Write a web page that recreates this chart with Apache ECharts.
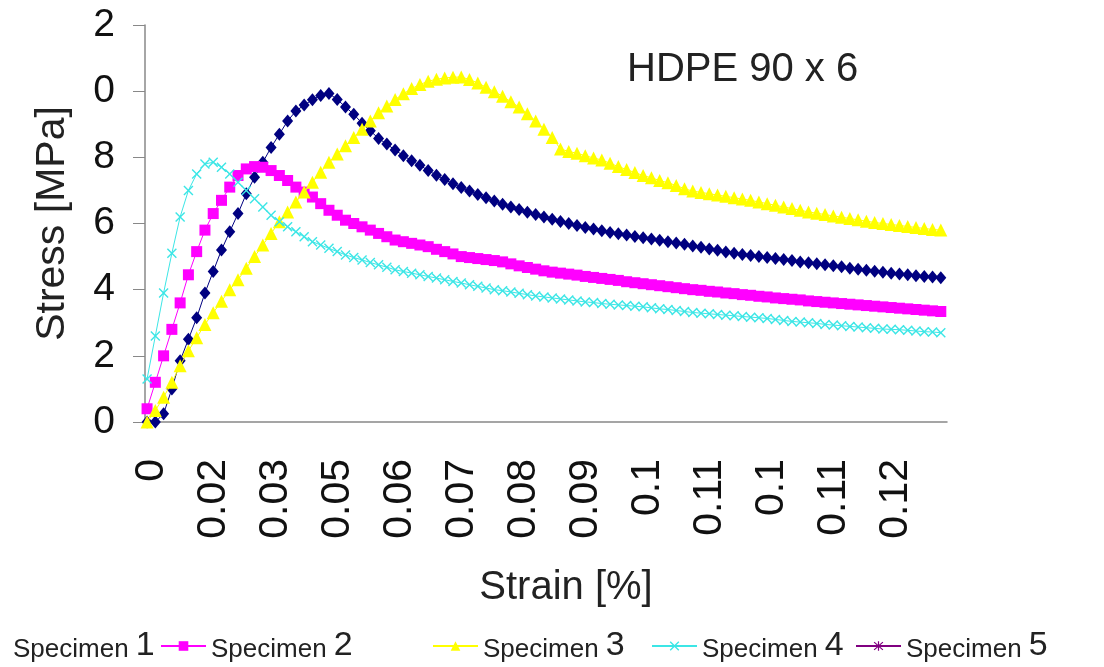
<!DOCTYPE html>
<html>
<head>
<meta charset="utf-8">
<title>HDPE 90 x 6</title>
<script src="https://cdn.jsdelivr.net/npm/echarts@6/dist/echarts.min.js"></script>
<style>
  html, body { margin: 0; padding: 0; background: #fff; }
  #chart { width: 1104px; height: 667px; }
</style>
</head>
<body>
<div id="chart"></div>
<script>
  // strain labels as printed under the axis (one every 15 categories)
  var tickLabels = ['0', '0.02', '0.03', '0.05', '0.06', '0.07', '0.08', '0.09', '0.1', '0.11', '0.1', '0.11', '0.12']
  var seriesNames = ['Specimen 1', 'Specimen 2', 'Specimen 3', 'Specimen 4', 'Specimen 5']

  // stress [MPa], one reading every 2nd category
  var specimen1 = [0, 0, 0.25, 1.0, 1.85, 2.5, 3.15, 3.9, 4.55, 5.2,
    5.75, 6.3, 6.9, 7.4, 7.85, 8.3, 8.7, 9.1, 9.4, 9.58,
    9.74, 9.87, 9.93, 9.75, 9.52, 9.3, 9.03, 8.8, 8.57, 8.4,
    8.22, 8.05, 7.9, 7.76, 7.6, 7.46, 7.33, 7.2, 7.09, 6.98,
    6.88, 6.78, 6.68, 6.58, 6.5, 6.42, 6.34, 6.27, 6.2, 6.13,
    6.06, 6.0, 5.94, 5.88, 5.83, 5.78, 5.73, 5.69, 5.65, 5.61,
    5.57, 5.53, 5.49, 5.45, 5.41, 5.37, 5.32, 5.28, 5.23, 5.19,
    5.14, 5.1, 5.06, 5.03, 5.0, 4.97, 4.94, 4.91, 4.88, 4.84,
    4.81, 4.78, 4.75, 4.72, 4.69, 4.65, 4.62, 4.59, 4.56, 4.53,
    4.5, 4.47, 4.45, 4.42, 4.4, 4.38, 4.36]
  var specimen2 = [0.4, 1.2, 2.0, 2.8, 3.6, 4.45, 5.15, 5.8, 6.3, 6.7,
    7.1, 7.45, 7.65, 7.72, 7.7, 7.6, 7.45, 7.3, 7.1, 6.95,
    6.8, 6.6, 6.4, 6.25, 6.1, 6.0, 5.9, 5.8, 5.7, 5.6,
    5.5, 5.45, 5.4, 5.35, 5.3, 5.22, 5.15, 5.08, 5.0, 4.97,
    4.94, 4.91, 4.88, 4.84, 4.78, 4.72, 4.67, 4.62, 4.57, 4.53,
    4.5, 4.47, 4.44, 4.4, 4.37, 4.34, 4.31, 4.28, 4.24, 4.21,
    4.18, 4.15, 4.12, 4.09, 4.06, 4.03, 4.0, 3.98, 3.95, 3.93,
    3.9, 3.88, 3.85, 3.83, 3.8, 3.78, 3.75, 3.73, 3.71, 3.69,
    3.66, 3.64, 3.62, 3.6, 3.58, 3.56, 3.54, 3.52, 3.5, 3.48,
    3.46, 3.44, 3.42, 3.4, 3.38, 3.36, 3.34]
  var specimen3 = [0, 0.35, 0.75, 1.2, 1.7, 2.15, 2.55, 2.95, 3.3, 3.65,
    4.0, 4.3, 4.65, 5.0, 5.35, 5.7, 6.05, 6.35, 6.65, 6.95,
    7.25, 7.55, 7.85, 8.1, 8.35, 8.6, 8.85, 9.1, 9.35, 9.55,
    9.75, 9.92, 10.08, 10.2, 10.3, 10.36, 10.4, 10.42, 10.43, 10.35,
    10.25, 10.12, 9.98, 9.85, 9.68, 9.52, 9.32, 9.1, 8.85, 8.6,
    8.25, 8.18, 8.12, 8.05, 7.98, 7.92, 7.82, 7.72, 7.63, 7.54,
    7.45, 7.38, 7.3, 7.23, 7.15, 7.05, 6.98, 6.94, 6.9, 6.86,
    6.82, 6.78, 6.74, 6.7, 6.65, 6.6, 6.55, 6.5, 6.45, 6.4,
    6.35, 6.31, 6.27, 6.23, 6.19, 6.15, 6.11, 6.07, 6.03, 6.0,
    5.97, 5.94, 5.91, 5.88, 5.85, 5.82, 5.8]
  var specimen4 = [1.3, 2.6, 3.9, 5.1, 6.2, 7.0, 7.5, 7.8, 7.85, 7.7,
    7.5, 7.25, 7.0, 6.75, 6.5, 6.25, 6.05, 5.9, 5.75, 5.6,
    5.45, 5.35, 5.25, 5.15, 5.05, 4.97, 4.9, 4.82, 4.75, 4.68,
    4.6, 4.55, 4.5, 4.45, 4.4, 4.35, 4.3, 4.25, 4.2, 4.15,
    4.1, 4.05, 4.0, 3.97, 3.93, 3.89, 3.85, 3.81, 3.78, 3.75,
    3.72, 3.69, 3.66, 3.63, 3.61, 3.58, 3.56, 3.54, 3.52, 3.5,
    3.48, 3.45, 3.42, 3.4, 3.37, 3.34, 3.31, 3.29, 3.27, 3.25,
    3.23, 3.21, 3.19, 3.17, 3.15, 3.13, 3.1, 3.07, 3.04, 3.02,
    3.0, 2.98, 2.95, 2.93, 2.91, 2.89, 2.87, 2.85, 2.83, 2.81,
    2.8, 2.79, 2.77, 2.75, 2.73, 2.72, 2.7]
  var specimen5 = []

  var categoryCount = 194
  var labelEvery = 15
  var labelOffset = 1
  var tickEvery = 11
  var sampleStep = 2

  var categories = []
  for (var i = 0; i < categoryCount; i++) {
    categories.push(i % labelEvery === labelOffset ? tickLabels[(i - labelOffset) / labelEvery] : '')
  }

  function toPoints(values) {
    return values.map(function (v, k) {
      return [k * sampleStep, v]
    })
  }

  var crossPath = 'path://M1,0L5,4L9,0L10,1L6,5L10,9L9,10L5,6L1,10L0,9L4,5L0,1Z'
  var starPath = 'path://M4.4,0H5.6V10H4.4Z M1,0.5L5,4.3L9,0.5L9.8,1.3L5.8,5L9.8,8.7L9,9.5L5,5.7L1,9.5L0.2,8.7L4.2,5L0.2,1.3Z'

  var styles = [
    { color: '#000080', symbol: 'diamond', size: [11, 13] },
    { color: '#ff00ff', symbol: 'rect', size: 11 },
    { color: '#ffff00', symbol: 'triangle', size: 13 },
    { color: '#3ce6e6', symbol: crossPath, size: 10 },
    { color: '#800080', symbol: starPath, size: 11 },
  ]
  var seriesValues = [specimen1, specimen2, specimen3, specimen4, specimen5]

  var legendLeft = [-42, 155, 427, 646, 850]
  var font = 'Liberation Sans, Arial, sans-serif'

  var chart = echarts.init(document.getElementById('chart'))

  chart.setOption({
    animation: false,
    backgroundColor: '#fff',
    title: {
      text: 'HDPE 90 x 6',
      left: 622,
      top: 45,
      textStyle: { fontFamily: font, fontSize: 40, fontWeight: 'normal', color: '#222' },
    },
    legend: seriesNames.map(function (name, i) {
      return {
        data: [i === 0 ? { name: name, icon: 'none' } : { name: name }],
        left: legendLeft[i],
        top: 624,
        itemWidth: 45,
        itemHeight: 12,
        formatter: function (n) {
          var p = n.split(' ')
          return '{a|' + p[0] + ' }{b|' + p[1] + '}'
        },
        textStyle: {
          rich: {
            a: { fontFamily: font, fontSize: 26, color: '#222', verticalAlign: 'bottom', lineHeight: 34 },
            b: { fontFamily: font, fontSize: 34, color: '#222', verticalAlign: 'bottom', lineHeight: 34 },
          },
        },
      }
    }),
    grid: { left: 145, right: 157, top: 25, bottom: 245 },
    xAxis: {
      type: 'category',
      data: categories,
      boundaryGap: true,
      name: 'Strain [%]',
      nameLocation: 'middle',
      nameGap: 146,
      nameTextStyle: { fontFamily: font, fontSize: 40, color: '#222', padding: [0, 0, 0, 40] },
      axisLine: { lineStyle: { color: '#888', width: 1.5 } },
      axisTick: { inside: true, interval: tickEvery - 1, length: 12, lineStyle: { color: '#888' } },
      axisLabel: {
        interval: function (index) {
          return index % labelEvery === labelOffset
        },
        rotate: 90,
        margin: 37,
        fontFamily: font,
        fontSize: 41,
        color: '#111',
      },
      splitLine: { show: false },
    },
    yAxis: {
      type: 'value',
      min: 0,
      max: 12,
      interval: 2,
      name: 'Stress [MPa]',
      nameLocation: 'middle',
      nameRotate: 90,
      nameGap: 72,
      nameTextStyle: { fontFamily: font, fontSize: 41, color: '#222' },
      axisLine: { show: true, lineStyle: { color: '#888', width: 1.5 } },
      axisTick: { show: true, length: 12, lineStyle: { color: '#888' } },
      axisLabel: {
        margin: 30,
        fontFamily: font,
        fontSize: 39,
        color: '#111',
        // only the last digit of each value is visible in the original
        formatter: function (v) {
          return String(v % 10)
        },
      },
      splitLine: { show: false },
    },
    series: seriesNames.map(function (name, i) {
      var s = styles[i]
      return {
        name: name,
        type: 'line',
        data: toPoints(seriesValues[i]),
        symbol: s.symbol,
        symbolSize: s.size,
        showAllSymbol: true,
        lineStyle: { color: s.color, width: 1 },
        itemStyle: { color: s.color },
        z: 2 + i,
      }
    }),
  })
</script>
</body>
</html>
